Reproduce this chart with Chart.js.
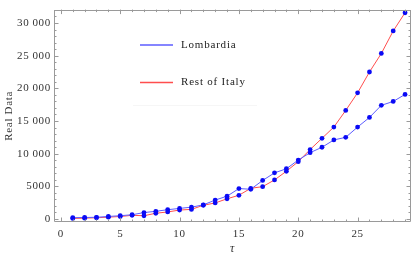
<!DOCTYPE html>
<html><head><meta charset="utf-8">
<script src="https://cdn.jsdelivr.net/npm/chart.js@4.4.1/dist/chart.umd.min.js"></script>
<style>html,body{margin:0;padding:0;background:#fff;overflow:hidden}canvas{display:block}</style>
</head><body>
<canvas id="c" width="415" height="259"></canvas>
<script>
// ---- data ----
const tau = [1,2,3,4,5,6,7,8,9,10,11,12,13,14,15,16,17,18,19,20,21,22,23,24,25,26,27,28,29];
const lombardia = [200,230,260,390,500,650,980,1180,1420,1620,1810,2160,2900,3490,4660,4550,5900,7060,7690,9020,10150,10980,12100,12500,14070,15540,17400,17990,19070];
const restOfItaly = [80,130,190,280,380,560,500,880,1080,1370,1470,2100,2460,3090,3630,4700,4950,5980,7310,8780,10630,12350,14070,16620,19310,22500,25340,28780,31570];
const seriesNames = ['Lombardia', 'Rest of Italy'];
const xTickValues = [0,5,10,15,20,25];
const xTickLabels = ['0','5','10','15','20','25'];
const yTickValues = [0,5000,10000,15000,20000,25000,30000];
const yTickLabels = ['0','5000','10\u2009000','15\u2009000','20\u2009000','25\u2009000','30\u2009000'];
const xTitle = '\u03C4';
const yTitle = 'Real Data';

const BLUE_LINE = 'rgb(92,92,255)';
const RED_LINE = 'rgb(255,78,78)';
const MARKER = 'rgb(10,10,245)';
const FRAME = '#9a9a9a';
const TEXT = '#333';
const SERIF = '"Liberation Serif","DejaVu Serif",serif';

const spacingPlugin = {
  id: 'spacing',
  beforeDraw(chart) { chart.ctx.letterSpacing = '0.7px'; },
  afterDraw(chart) { chart.ctx.letterSpacing = '0px'; }
};

const framePlugin = {
  id: 'frame',
  afterDraw(chart) {
    const {ctx, chartArea: a, scales: {x, y}} = chart;
    ctx.save();
    ctx.strokeStyle = FRAME;
    ctx.lineWidth = 1;
    ctx.beginPath();
    ctx.rect(Math.round(a.left) + 0.5, Math.round(a.top) + 0.5, Math.round(a.right - a.left) - 1, Math.round(a.bottom - a.top) - 1);
    ctx.stroke();
    ctx.beginPath();
    for (let v = 0; v <= 29; v++) {
      const px = Math.round(x.getPixelForValue(v)) + 0.5;
      const len = v % 5 === 0 ? 4.5 : 2.5;
      ctx.moveTo(px, a.bottom); ctx.lineTo(px, a.bottom - len);
      ctx.moveTo(px, a.top); ctx.lineTo(px, a.top + len);
    }
    for (let v = 0; v <= 32000; v += 1000) {
      const py = Math.round(y.getPixelForValue(v)) + 0.5;
      if (py < a.top || py > a.bottom) continue;
      const len = v % 5000 === 0 ? 4.5 : 2.5;
      ctx.moveTo(a.left, py); ctx.lineTo(a.left + len, py);
      ctx.moveTo(a.right, py); ctx.lineTo(a.right - len, py);
    }
    ctx.stroke();
    ctx.restore();
  }
};

const legendPlugin = {
  id: 'customLegend',
  afterDraw(chart) {
    const {ctx} = chart;
    ctx.save();
    const rows = [{y: 45, color: BLUE_LINE}, {y: 82.5, color: RED_LINE}];
    chart.data.datasets.forEach((ds, i) => {
      const r = rows[i];
      ctx.strokeStyle = ds.borderColor;
      ctx.lineWidth = 1.3;
      ctx.beginPath();
      ctx.moveTo(140, r.y); ctx.lineTo(173, r.y);
      ctx.stroke();
      ctx.fillStyle = '#222';
      ctx.font = '11px ' + SERIF;
      ctx.letterSpacing = '0.8px';
      ctx.textBaseline = 'middle';
      ctx.textAlign = 'left';
      ctx.fillText(ds.label, 181, r.y);
    });
    ctx.letterSpacing = '0px';
    ctx.strokeStyle = 'rgba(0,0,0,0.035)';
    ctx.lineWidth = 1;
    ctx.beginPath();
    ctx.moveTo(133, 105.5); ctx.lineTo(257, 105.5);
    ctx.stroke();
    ctx.restore();
  }
};

new Chart(document.getElementById('c'), {
  type: 'line',
  data: {
    datasets: [
      {
        label: seriesNames[0],
        data: tau.map((t, i) => ({x: t, y: lombardia[i]})),
        borderColor: BLUE_LINE, borderWidth: 1,
        pointRadius: 2.4, pointBackgroundColor: MARKER, pointBorderWidth: 0,
        pointStyle: 'circle', tension: 0, clip: false
      },
      {
        label: seriesNames[1],
        data: tau.map((t, i) => ({x: t, y: restOfItaly[i]})),
        borderColor: RED_LINE, borderWidth: 1,
        pointRadius: 2.4, pointBackgroundColor: MARKER, pointBorderWidth: 0,
        pointStyle: 'circle', tension: 0, clip: false
      }
    ]
  },
  options: {
    responsive: false,
    animation: false,
    devicePixelRatio: 1,
    layout: {padding: {top: 1, right: 2, left: 0, bottom: 0}},
    plugins: {legend: {display: false}, tooltip: {enabled: false}},
    scales: {
      x: {
        type: 'linear', min: -0.58, max: 29.5,
        grid: {display: false, drawTicks: false},
        border: {display: false},
        afterFit(s) { s.height = 37; },
        afterBuildTicks(s) { s.ticks = xTickValues.map(v => ({value: v})); },
        ticks: {
          autoSkip: false, maxRotation: 0, padding: 6, color: TEXT,
          font: {family: SERIF, size: 11},
          callback(v) { const i = xTickValues.indexOf(v); return i >= 0 ? xTickLabels[i] : ''; }
        },
        title: {display: true, text: xTitle, color: TEXT, font: {family: SERIF, size: 12, style: 'italic'}, padding: {top: 0, bottom: 3}}
      },
      y: {
        type: 'linear', min: -460, max: 32050,
        grid: {display: false, drawTicks: false},
        border: {display: false},
        afterFit(s) { s.width = 54; },
        afterBuildTicks(s) { s.ticks = yTickValues.map(v => ({value: v})); },
        ticks: {
          autoSkip: false, padding: 3, color: TEXT,
          font: {family: SERIF, size: 11},
          callback(v) { const i = yTickValues.indexOf(v); return i >= 0 ? yTickLabels[i] : ''; }
        },
        title: {display: true, text: yTitle, color: TEXT, font: {family: SERIF, size: 11}, padding: {top: 3, bottom: 0}}
      }
    }
  },
  plugins: [spacingPlugin, framePlugin, legendPlugin]
});
</script>
</body></html>
